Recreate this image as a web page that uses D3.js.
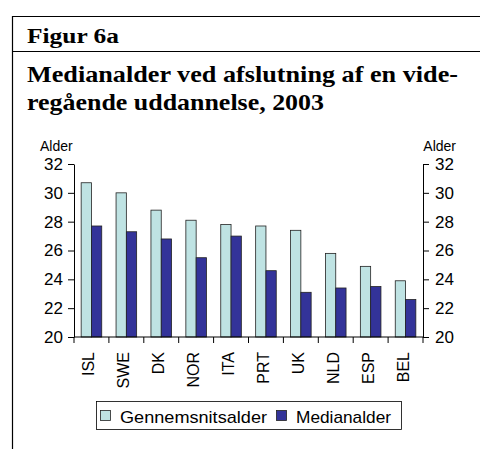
<!DOCTYPE html>
<html>
<head>
<meta charset="utf-8">
<script src="https://cdn.jsdelivr.net/npm/d3@7"></script>
<style>
  html, body { margin: 0; padding: 0; background: white; }
</style>
</head>
<body>
<div id="chart"></div>
<script>
const countries = ["ISL", "SWE", "DK", "NOR", "ITA", "PRT", "UK", "NLD", "ESP", "BEL"];
const meanAge = [30.7, 30.0, 28.8, 28.1, 27.8, 27.7, 27.4, 25.8, 24.9, 23.9];
const medianAge = [27.7, 27.3, 26.8, 25.5, 27.0, 24.6, 23.1, 23.4, 23.5, 22.6];
const seriesNames = ["Gennemsnitsalder", "Medianalder"];
const seriesColors = ["#bfe3e3", "#333399"];
const yTicks = [20, 22, 24, 26, 28, 30, 32];

const width = 480;
const height = 449;
const plot = { left: 74, right: 423, top: 164, bottom: 337 };

const svg = d3.select("#chart")
  .append("svg")
  .attr("width", width)
  .attr("height", height)
  .style("background", "white");

// frame and header lines
svg.append("line").attr("x1", 12.5).attr("x2", 12.5).attr("y1", 16).attr("y2", height)
  .attr("stroke", "black").attr("stroke-width", 1.2);
svg.append("line").attr("x1", 12).attr("x2", width).attr("y1", 16.5).attr("y2", 16.5)
  .attr("stroke", "black").attr("stroke-width", 1.2);
svg.append("line").attr("x1", 12).attr("x2", width).attr("y1", 51.5).attr("y2", 51.5)
  .attr("stroke", "black").attr("stroke-width", 1);

const serif = "'Liberation Serif', 'DejaVu Serif', serif";
const sans = "'Liberation Sans', Arial, sans-serif";

svg.append("text")
  .attr("x", 27).attr("y", 43)
  .attr("font-family", serif).attr("font-weight", "bold").attr("font-size", "20px")
  .attr("textLength", 92).attr("lengthAdjust", "spacingAndGlyphs")
  .text("Figur 6a");

svg.append("text")
  .attr("x", 27).attr("y", 82)
  .attr("font-family", serif).attr("font-weight", "bold").attr("font-size", "23px")
  .attr("textLength", 431).attr("lengthAdjust", "spacingAndGlyphs")
  .text("Medianalder ved afslutning af en vide-");

svg.append("text")
  .attr("x", 27).attr("y", 110)
  .attr("font-family", serif).attr("font-weight", "bold").attr("font-size", "23px")
  .attr("textLength", 297).attr("lengthAdjust", "spacingAndGlyphs")
  .text("regående uddannelse, 2003");

const x0 = d3.scaleBand()
  .domain(countries)
  .range([plot.left, plot.right])
  .paddingInner(0.41)
  .paddingOuter(0.205);

const x1 = d3.scaleBand()
  .domain(seriesNames)
  .range([0, x0.bandwidth()]);

const y = d3.scaleLinear()
  .domain([20, 32])
  .range([plot.bottom, plot.top]);

// bars
const groups = svg.selectAll(".group")
  .data(countries)
  .enter()
  .append("g")
    .attr("class", "group")
    .attr("transform", d => `translate(${x0(d)},0)`);

groups.selectAll("rect")
  .data((d, i) => [
    { s: seriesNames[0], v: meanAge[i], c: seriesColors[0] },
    { s: seriesNames[1], v: medianAge[i], c: seriesColors[1] }
  ])
  .enter()
  .append("rect")
    .attr("x", d => x1(d.s))
    .attr("y", d => y(d.v))
    .attr("width", x1.bandwidth())
    .attr("height", d => y(20) - y(d.v))
    .attr("fill", d => d.c)
    .attr("stroke", "#222")
    .attr("stroke-width", 0.8);

// axes
const leftAxis = svg.append("g")
  .attr("transform", `translate(${plot.left},0)`)
  .call(d3.axisLeft(y).tickValues(yTicks).tickSize(6).tickSizeOuter(0).tickPadding(5));

const rightAxis = svg.append("g")
  .attr("transform", `translate(${plot.right},0)`)
  .call(d3.axisRight(y).tickValues(yTicks).tickSize(6).tickSizeOuter(0).tickPadding(6));

[leftAxis, rightAxis].forEach(a => {
  a.selectAll("text").attr("font-family", sans).attr("font-size", "17px").attr("fill", "black");
  a.selectAll("line").attr("stroke", "black");
  a.select(".domain").attr("stroke", "black");
});

// category axis with ticks between categories
const step = x0.step();
const bottom = svg.append("g");
bottom.append("line")
  .attr("x1", plot.left).attr("x2", plot.right)
  .attr("y1", plot.bottom).attr("y2", plot.bottom)
  .attr("stroke", "black");
bottom.selectAll(".sep")
  .data(d3.range(countries.length + 1))
  .enter()
  .append("line")
    .attr("x1", i => plot.left + i * step)
    .attr("x2", i => plot.left + i * step)
    .attr("y1", plot.bottom)
    .attr("y2", plot.bottom + 6)
    .attr("stroke", "black");

bottom.selectAll(".cat")
  .data(countries)
  .enter()
  .append("text")
    .attr("transform", d => `translate(${x0(d) + x0.bandwidth() / 2 + 3},${plot.bottom + 15}) rotate(-90)`)
    .attr("text-anchor", "end")
    .attr("font-family", sans)
    .attr("font-size", "16px")
    .text(d => d);

// "Alder" labels
svg.append("text")
  .attr("x", 40).attr("y", 151)
  .attr("font-family", sans).attr("font-size", "14px")
  .text("Alder");
svg.append("text")
  .attr("x", 456).attr("y", 151)
  .attr("text-anchor", "end")
  .attr("font-family", sans).attr("font-size", "14px")
  .text("Alder");

// legend
const legend = svg.append("g");
legend.append("rect")
  .attr("x", 96.5).attr("y", 401.5)
  .attr("width", 305).attr("height", 28)
  .attr("fill", "white").attr("stroke", "black").attr("stroke-width", 0.8);

const legendX = [100, 276];
const legendTextLen = [147, 95];
seriesNames.forEach((name, i) => {
  legend.append("rect")
    .attr("x", legendX[i] + 0.5).attr("y", 410.5)
    .attr("width", 10).attr("height", 10)
    .attr("fill", seriesColors[i])
    .attr("stroke", "#222").attr("stroke-width", 0.8);
  legend.append("text")
    .attr("x", legendX[i] + 20).attr("y", 423)
    .attr("font-family", sans).attr("font-size", "17px")
    .attr("textLength", legendTextLen[i]).attr("lengthAdjust", "spacingAndGlyphs")
    .text(name);
});
</script>
</body>
</html>
